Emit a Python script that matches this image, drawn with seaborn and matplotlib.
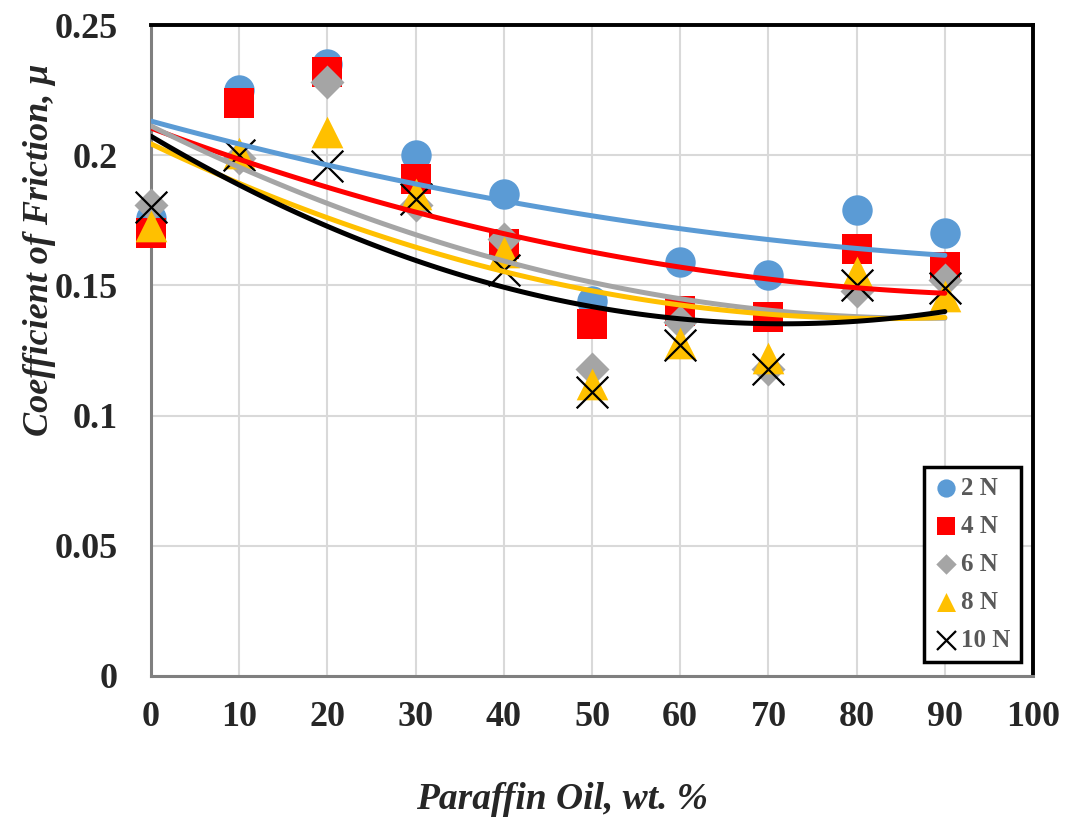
import numpy as np
import pandas as pd
import matplotlib
matplotlib.use("Agg")
import matplotlib.pyplot as plt
import seaborn as sns
from matplotlib.ticker import FixedLocator

# ---- data ----
oil_wt = [0, 10, 20, 30, 40, 50, 60, 70, 80, 90]
mu_2N = [0.176, 0.225, 0.235, 0.200, 0.185, 0.144, 0.159, 0.154, 0.179, 0.170]
mu_4N = [0.170, 0.220, 0.232, 0.191, 0.166, 0.135, 0.140, 0.138, 0.164, 0.157]
mu_6N = [0.181, 0.199, 0.228, 0.181, 0.168, 0.118, 0.136, 0.118, 0.148, 0.152]
mu_8N = [0.173, 0.201, 0.209, 0.185, 0.163, 0.112, 0.128, 0.122, 0.155, 0.146]
mu_10N = [0.180, 0.200, 0.196, 0.183, 0.156, 0.109, 0.127, 0.118, 0.150, 0.149]
loads = ["2 N", "4 N", "6 N", "8 N", "10 N"]
x_ticks = [0, 10, 20, 30, 40, 50, 60, 70, 80, 90, 100]
y_ticks = [0, 0.05, 0.1, 0.15, 0.2, 0.25]
y_tick_labels = ["0", "0.05", "0.1", "0.15", "0.2", "0.25"]

series = [mu_2N, mu_4N, mu_6N, mu_8N, mu_10N]
colors = ["#5B9BD5", "#FF0000", "#A5A5A5", "#FFC000", "#000000"]
markers = ["o", "s", "D", "^", "x"]
sizes = [480, 480, 300, 520, 520]

sns.set_theme(style="white")
plt.rcParams["font.family"] = ["Liberation Serif", "DejaVu Serif"]
plt.rcParams["font.weight"] = "bold"

fig = plt.figure(figsize=(10.65, 8.18), dpi=100)
ax = fig.add_axes([0.1418, 0.1736, 0.8282, 0.7958])

for lab, vals, c, m, s in zip(loads, series, colors, markers, sizes):
    df = pd.DataFrame({"x": oil_wt, "y": vals})
    kw = dict(s=s, color=c, marker=m, clip_on=False, zorder=3)
    if m == "x":
        kw.update(linewidth=1.6)
    else:
        kw.update(linewidth=0)
    sns.scatterplot(data=df, x="x", y="y", ax=ax, label=lab, **kw)

for lab, vals, c in zip(loads, series, colors):
    df = pd.DataFrame({"x": oil_wt, "y": vals})
    sns.regplot(data=df, x="x", y="y", ax=ax, order=2, ci=None, scatter=False,
                truncate=True, line_kws=dict(color=c, linewidth=3.6, zorder=4,
                                             solid_capstyle="round"))

ax.set_xlim(0, 100)
ax.set_ylim(0, 0.25)
ax.xaxis.set_major_locator(FixedLocator(x_ticks))
ax.yaxis.set_major_locator(FixedLocator(y_ticks))
ax.set_yticklabels(y_tick_labels)
ax.grid(True, color="#D9D9D9", linewidth=1.5)
ax.set_axisbelow(True)
ax.tick_params(axis="both", length=0, labelsize=26)
ax.tick_params(axis="y", pad=24)
ax.tick_params(axis="x", pad=18)
for t in ax.get_xticklabels() + ax.get_yticklabels():
    t.set_fontweight("bold")

for sp in ["top", "right"]:
    ax.spines[sp].set_color("black")
    ax.spines[sp].set_linewidth(2.8)
for sp in ["left", "bottom"]:
    ax.spines[sp].set_color("#7F7F7F")
    ax.spines[sp].set_linewidth(2.2)

ax.set_xlabel("Paraffin Oil, wt. %", fontsize=27, fontweight="bold",
              fontstyle="italic")
ax.xaxis.set_label_coords(0.4665, -0.19)
ax.xaxis.label.set_va("center")
ax.set_ylabel("Coefficient of Friction, μ", fontsize=26, fontweight="bold",
              fontstyle="italic")
ax.yaxis.set_label_coords(-0.126, 0.655)
ax.yaxis.label.set_va("center")

leg = ax.legend(loc="lower right", bbox_to_anchor=(0.986, 0.0215),
                borderaxespad=0, markerscale=0.6, handletextpad=0.1,
                handlelength=1.0, labelspacing=0.6, borderpad=0.4,
                fancybox=False, framealpha=1, edgecolor="black",
                prop={"family": "Liberation Serif", "weight": "bold", "size": 18})
leg.get_frame().set_linewidth(2.5)
for t in leg.get_texts():
    t.set_color("#595959")

fig.savefig("out.png", dpi=100)
